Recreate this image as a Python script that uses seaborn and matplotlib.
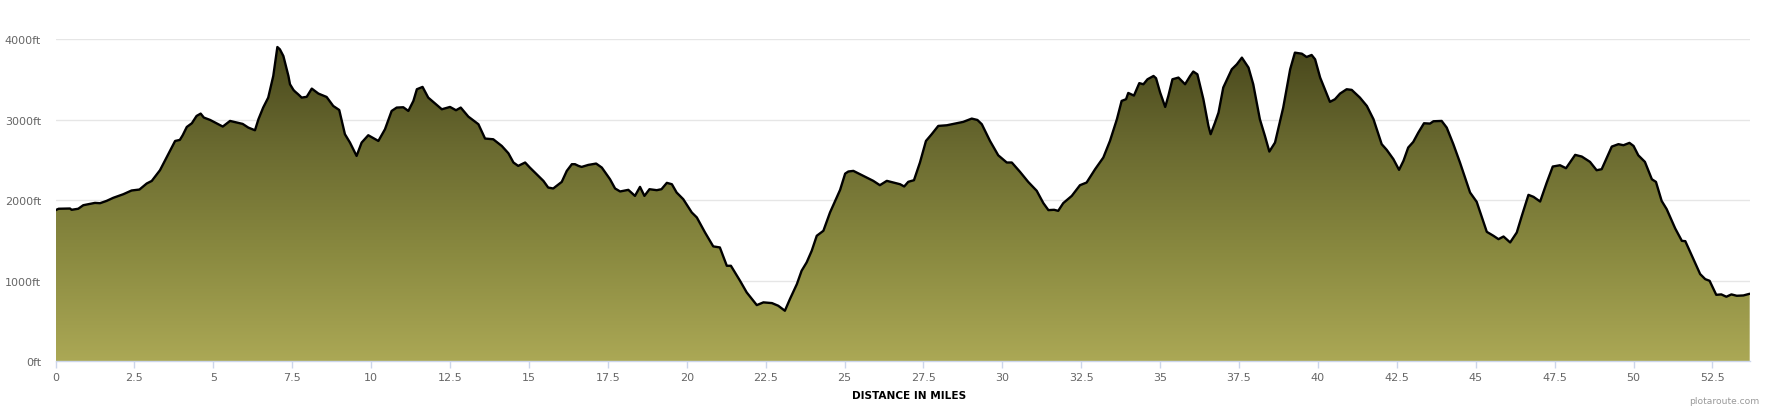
import numpy as np
import pandas as pd
import matplotlib
matplotlib.use("Agg")
import matplotlib.pyplot as plt
from matplotlib.colors import LinearSegmentedColormap
import seaborn as sns

# ---- data ----
distance_mi = [
    0.00, 0.10, 0.46, 0.51, 0.72, 0.88, 1.25, 1.41, 1.62, 1.83, 2.15, 2.41, 2.66, 2.89, 3.05,
    3.31, 3.52, 3.79, 3.94, 4.03, 4.16, 4.32, 4.47, 4.60, 4.70, 4.90, 5.10, 5.30, 5.53, 5.74,
    5.93, 6.11, 6.32, 6.43, 6.58, 6.74, 6.90, 7.03, 7.11, 7.22, 7.38, 7.43, 7.54, 7.59, 7.69,
    7.80, 7.96, 8.12, 8.33, 8.59, 8.80, 8.99, 9.17, 9.33, 9.54, 9.70, 9.91, 10.23, 10.44, 10.65,
    10.81, 11.02, 11.18, 11.34, 11.45, 11.63, 11.81, 12.02, 12.24, 12.50, 12.69, 12.84, 13.08,
    13.40, 13.61, 13.87, 14.14, 14.35, 14.51, 14.66, 14.88, 15.03, 15.30, 15.46, 15.61, 15.77,
    16.04, 16.20, 16.36, 16.46, 16.57, 16.67, 16.88, 17.13, 17.31, 17.57, 17.73, 17.89, 18.15,
    18.36, 18.52, 18.66, 18.82, 19.05, 19.20, 19.37, 19.53, 19.68, 19.89, 20.16, 20.32, 20.58,
    20.84, 21.05, 21.27, 21.40, 21.69, 21.90, 22.22, 22.43, 22.70, 22.90, 23.11, 23.27, 23.49,
    23.64, 23.80, 23.96, 24.12, 24.33, 24.54, 24.75, 24.86, 25.02, 25.12, 25.28, 25.49, 25.70,
    25.91, 26.12, 26.34, 26.55, 26.76, 26.89, 27.02, 27.20, 27.39, 27.58, 27.76, 27.97, 28.24,
    28.50, 28.76, 29.03, 29.21, 29.35, 29.61, 29.87, 30.14, 30.30, 30.56, 30.82, 31.09, 31.30,
    31.46, 31.64, 31.77, 31.93, 32.20, 32.46, 32.67, 32.94, 33.20, 33.41, 33.63, 33.78, 33.92,
    33.99, 34.17, 34.34, 34.47, 34.60, 34.79, 34.87, 35.00, 35.16, 35.26, 35.39, 35.58, 35.79,
    35.95, 36.05, 36.18, 36.37, 36.53, 36.60, 36.74, 36.85, 37.00, 37.27, 37.43, 37.59, 37.80,
    37.95, 38.16, 38.32, 38.46, 38.64, 38.90, 39.12, 39.27, 39.49, 39.64, 39.80, 39.91, 40.07,
    40.38, 40.54, 40.70, 40.91, 41.07, 41.33, 41.55, 41.76, 42.02, 42.18, 42.39, 42.57, 42.71,
    42.86, 43.02, 43.18, 43.36, 43.55, 43.66, 43.92, 44.08, 44.29, 44.50, 44.82, 45.03, 45.35,
    45.56, 45.72, 45.88, 46.09, 46.30, 46.46, 46.67, 46.83, 47.04, 47.25, 47.44, 47.67, 47.86,
    48.15, 48.36, 48.62, 48.83, 48.99, 49.31, 49.52, 49.68, 49.87, 50.00, 50.15, 50.36, 50.58,
    50.71, 50.89, 51.05, 51.32, 51.53, 51.64, 51.85, 52.11, 52.27, 52.41, 52.62, 52.78, 52.94,
    53.10, 53.27, 53.48, 53.68,
]
elevation_ft = [
    1875, 1893, 1896, 1880, 1893, 1937, 1966, 1962, 1991, 2029, 2074, 2120, 2132, 2207, 2239,
    2372, 2530, 2736, 2749, 2807, 2910, 2956, 3047, 3076, 3027, 2997, 2956, 2915, 2985, 2966,
    2948, 2902, 2869, 3006, 3151, 3275, 3544, 3904, 3875, 3792, 3544, 3441, 3370, 3350, 3316,
    3275, 3285, 3387, 3325, 3283, 3171, 3121, 2820, 2716, 2550, 2716, 2807, 2736, 2882, 3109,
    3151, 3155, 3109, 3234, 3379, 3408, 3275, 3205, 3130, 3159, 3118, 3151, 3039,
    2944, 2766, 2757, 2674, 2583, 2468, 2426, 2468, 2405, 2301, 2239, 2157, 2145,
    2227, 2364, 2447, 2447, 2426, 2413, 2438, 2455, 2405, 2260, 2145, 2108, 2128,
    2053, 2165, 2053, 2136, 2124, 2136, 2215, 2198, 2095, 2012, 1847, 1785, 1598,
    1425, 1412, 1184, 1184, 997, 853, 695, 729, 720, 687, 625, 770, 956,
    1122, 1226, 1370, 1557, 1619, 1847, 2033, 2128, 2330, 2356, 2364, 2323, 2281,
    2240, 2186, 2240, 2219, 2198, 2170, 2228, 2248, 2468, 2736, 2819, 2923, 2931,
    2952, 2973, 3014, 2997, 2944, 2736, 2558, 2468, 2468, 2352, 2227, 2116, 1963,
    1876, 1880, 1867, 1963, 2053, 2186, 2219, 2385, 2530, 2736, 3006, 3234, 3255,
    3333, 3300, 3455, 3441, 3503, 3544, 3516, 3338, 3159, 3296, 3503, 3524, 3441,
    3544, 3599, 3565, 3255, 2923, 2820, 2965, 3089, 3400, 3627, 3689, 3772, 3648,
    3441, 3006, 2799, 2604, 2716, 3151, 3627, 3834, 3821, 3780, 3805, 3751, 3524,
    3222, 3255, 3325, 3379, 3371, 3275, 3171, 3006, 2696, 2625, 2510, 2377, 2489,
    2654, 2724, 2840, 2956, 2952, 2981, 2985, 2902, 2696, 2468, 2095, 1979, 1606,
    1557, 1515, 1548, 1474, 1598, 1805, 2066, 2041, 1983, 2219, 2418, 2434, 2397,
    2563, 2542, 2476, 2372, 2385, 2666, 2696, 2683, 2712, 2674, 2558, 2476, 2260,
    2227, 1991, 1888, 1648, 1494, 1490, 1308, 1081, 1018, 997, 823, 828, 799,
    828, 811, 815, 836,
]
x_ticks = [0, 2.5, 5, 7.5, 10, 12.5, 15, 17.5, 20, 22.5, 25, 27.5, 30, 32.5, 35, 37.5,
           40, 42.5, 45, 47.5, 50, 52.5]
x_tick_labels = ["0", "2.5", "5", "7.5", "10", "12.5", "15", "17.5", "20", "22.5", "25",
                 "27.5", "30", "32.5", "35", "37.5", "40", "42.5", "45", "47.5", "50", "52.5"]
y_ticks = [0, 1000, 2000, 3000, 4000]
y_tick_labels = ["0ft", "1000ft", "2000ft", "3000ft", "4000ft"]
x_label = "DISTANCE IN MILES"
credit = "plotaroute.com"

df = pd.DataFrame({"distance": distance_mi, "elevation": elevation_ft})

# ---- figure ----
sns.set_style("white")
plt.rcParams["font.family"] = ["DejaVu Sans"]

W, H = 1770, 410
fig = plt.figure(figsize=(W / 100, H / 100), dpi=100)
left, right, top, bottom = 55.5, 1749.7, 40.3, 362.0
ax = fig.add_axes([left / W, 1 - bottom / H, (right - left) / W, (bottom - top) / H])

xmax = max(distance_mi)
ax.set_xlim(0, xmax)
ax.set_ylim(0, 4000)

# gridlines
ax.set_yticks(y_ticks)
ax.set_yticklabels(y_tick_labels)
ax.grid(axis="y", color="#e6e6e6", linewidth=1.0)
ax.grid(axis="x", visible=False)
ax.set_axisbelow(True)

# gradient area fill, clipped to the profile
poly = ax.fill_between(df["distance"], df["elevation"], 0, facecolor="none", edgecolor="none")
cmap = LinearSegmentedColormap.from_list("olive", ["#aba855", "#8a8a40", "#6a6a30", "#45441a"])
grad = np.linspace(0, 1, 256).reshape(-1, 1)
im = ax.imshow(grad, cmap=cmap, aspect="auto", origin="lower",
               extent=[0, xmax, 0, 4000], zorder=2, interpolation="bilinear")
path = poly.get_paths()[0]
im.set_clip_path(path, transform=ax.transData)

sns.lineplot(data=df, x="distance", y="elevation", color="black", linewidth=1.7,
             ax=ax, zorder=3, sort=False, solid_joinstyle="round", solid_capstyle="round")

# axes styling
for s in ["top", "right", "left"]:
    ax.spines[s].set_visible(False)
ax.spines["bottom"].set_color("#ccd6eb")
ax.spines["bottom"].set_linewidth(1.0)
ax.spines["bottom"].set_zorder(4)

ax.set_xticks(x_ticks)
ax.set_xticklabels(x_tick_labels)
ax.tick_params(axis="x", length=5, width=1, color="#ccd6eb", labelcolor="#666666",
               labelsize=8, pad=3, direction="out", bottom=True)
ax.tick_params(axis="y", length=0, labelcolor="#666666", labelsize=8, pad=10.5)
ax.set_xlabel("")
ax.set_ylabel("")

fig.text(908.8 / W, 1 - 396 / H, x_label, ha="center", va="center",
         fontsize=7.6, fontweight="bold", color="#000000")
fig.text(1759 / W, 1 - 401.7 / H, credit, ha="right", va="center",
         fontsize=6.6, color="#999999")

fig.savefig("out.png", dpi=100, facecolor="white")
